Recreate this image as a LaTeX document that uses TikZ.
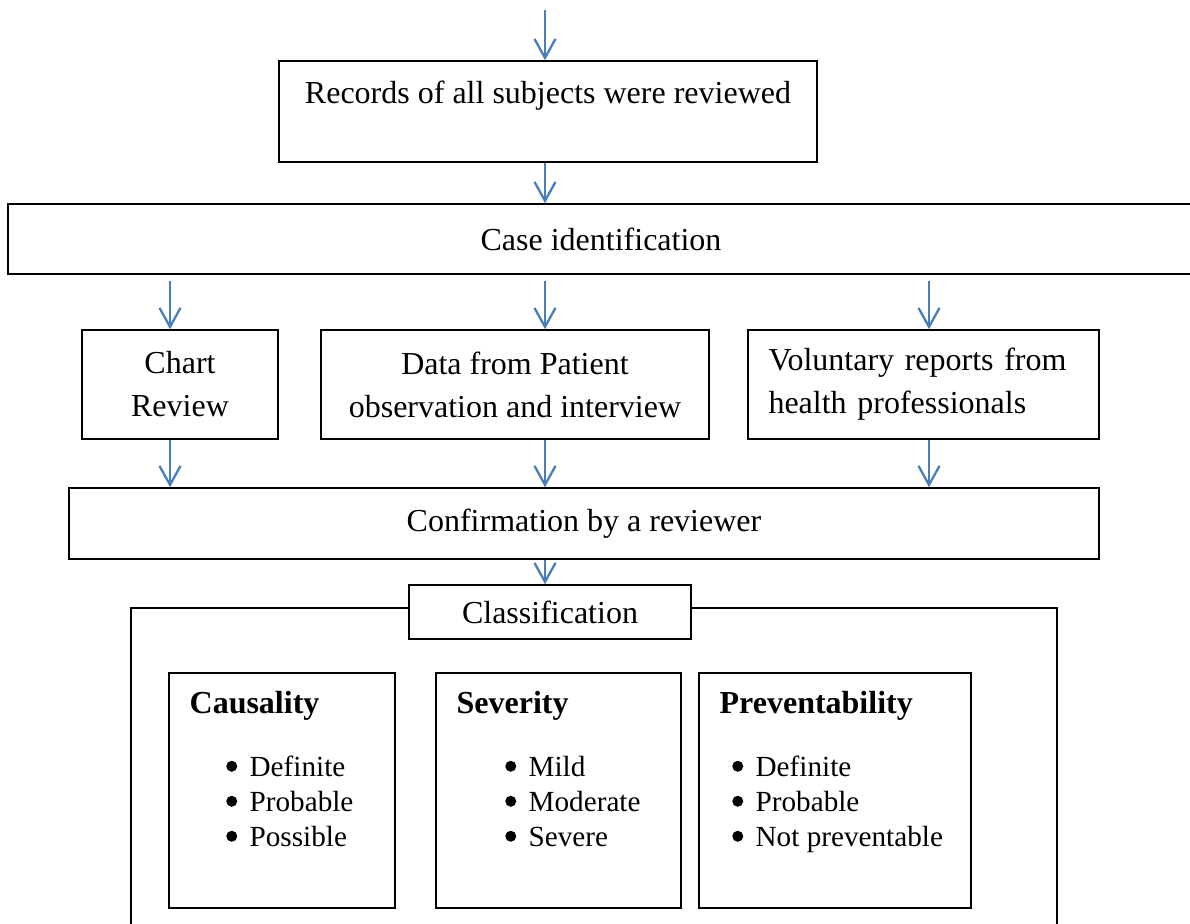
\documentclass[tikz,border=0pt]{standalone}
\usepackage{fontspec}
\setmainfont{Liberation Serif}
\usepackage{tikz}
\usetikzlibrary{positioning, calc, arrows.meta}
\definecolor{arrowblue}{RGB}{74,126,187}
\newlength{\Px}
\setlength\Px{0.5pt}

\begin{document}
\begin{tikzpicture}[
    x = 0.5pt, y = -0.5pt, align = center,
    > = {Straight Barb[length = 9.5pt, width = 10.5pt]},
    font = \fontsize{16}{21.5}\selectfont,
    box/.style = {
      rectangle, draw, line width = 0.75pt, inner sep = 0pt
    },
    flow/.style = {
      arrows = ->, line width = 1.15pt, draw = arrowblue
    },
    headtext/.style = {
      anchor = base west, inner sep = 0pt, font = \fontsize{16}{21.5}\selectfont\bfseries
    },
    entry/.style = {
      anchor = base west, inner sep = 0pt, font = \fontsize{14.6}{17.5}\selectfont
    },
    ]

    \useasboundingbox (0, 0) rectangle (1190, 923);
    \clip (0, 0) rectangle (1190, 923);

    % columns of the arrows
    \coordinate (top)  at (545, 10);
    \coordinate (colL) at (170, 0);
    \coordinate (colM) at (545, 0);
    \coordinate (colR) at (929, 0);

    % draw upper boxes
    \node  [box, minimum width = 538\Px, minimum height = 101\Px]  (rec)  at (548, 111.5)  {};
    \node  [inner sep = 0pt, below = 20\Px of rec.north]  (rectext)  {Records of all subjects were reviewed};
    \node  [box, minimum width = 1186\Px, minimum height = 70\Px]  (case)  at (601, 239)  {Case identification};

    \node  [box, minimum width = 196\Px, minimum height = 109\Px]  (chart)  at (180, 384.5)  {Chart\\Review};
    \node  [box, minimum width = 388\Px, minimum height = 109\Px]  (data)  at (515, 384.5)  {Data from Patient\\observation and interview};
    \node  [box, minimum width = 351\Px, minimum height = 109\Px, text width = 310\Px, align = left]  (vol)  at (923.5, 384.5)  {Voluntary reports from\\health professionals};

    \node  [box, minimum width = 1030\Px, minimum height = 71\Px]  (conf)  at (584, 523.5)  {Confirmation by a reviewer};

    % classification frame
    \node  [box, minimum width = 926\Px, minimum height = 340\Px, anchor = north]  (clsframe)  at (594, 607)  {};
    \node  [box, fill = white, minimum width = 282\Px, minimum height = 54\Px]  (cls)  at (550, 612)  {Classification};

    \node  [box, minimum width = 226\Px, minimum height = 235\Px]  (caus)  at (282, 790.5)  {};
    \node  [box, minimum width = 245\Px, minimum height = 235\Px]  (sev)  at (558.5, 790.5)  {};
    \node  [box, minimum width = 272\Px, minimum height = 235\Px]  (prev)  at (835, 790.5)  {};

    \node  [headtext]  (caushead)  at ($(caus.north west)+(21, 41)$)  {Causality};
    \node  [headtext]  (sevhead)  at ($(sev.north west)+(21, 41)$)  {Severity};
    \node  [headtext]  (prevhead)  at ($(prev.north west)+(21, 41)$)  {Preventability};

    % bullet lists
    \foreach \t [count = \k] in {Definite, Probable, Possible} {
      \node  [entry]  (caus\k)  at ($(caus.north west)+(81, 69+35*\k)$)  {\t};
      \fill  ($(caus\k.base west)+(-17.5, -10)$)  circle [radius = 5.5\Px];
    }
    \foreach \t [count = \k] in {Mild, Moderate, Severe} {
      \node  [entry]  (sev\k)  at ($(sev.north west)+(93, 69+35*\k)$)  {\t};
      \fill  ($(sev\k.base west)+(-17.5, -10)$)  circle [radius = 5.5\Px];
    }
    \foreach \t [count = \k] in {Definite, Probable, Not preventable} {
      \node  [entry]  (prev\k)  at ($(prev.north west)+(57, 69+35*\k)$)  {\t};
      \fill  ($(prev\k.base west)+(-17.5, -10)$)  circle [radius = 5.5\Px];
    }

    % draw arrows
    \draw  [flow]  (top)  --  (rec.north -| top);
    \draw  [flow]  (rec.south -| colM)  --  (case.north -| colM);
    \foreach \b/\c in {chart/colL, data/colM, vol/colR} {
      \draw  [flow, shorten <= 6\Px]  (case.south -| \c)  --  (\b.north -| \c);
      \draw  [flow]  (\b.south -| \c)  --  (conf.north -| \c);
    }
    \draw  [flow]  (conf.south -| colM)  --  (cls.north -| colM);
\end{tikzpicture}
\end{document}
